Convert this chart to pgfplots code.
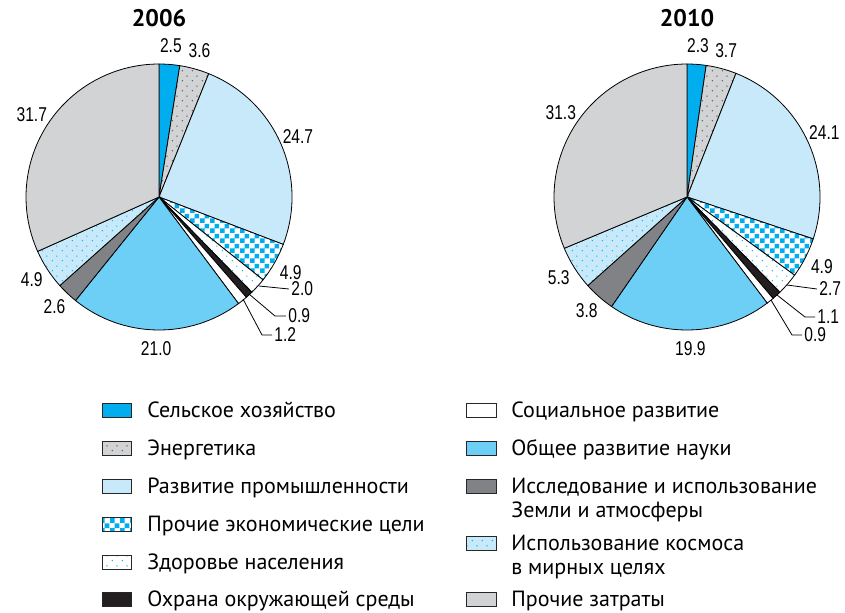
\documentclass[border=0pt]{standalone}
\usepackage{fontspec}
\setmainfont{PT Sans}
\newfontfamily\numfont[FakeStretch=0.78]{Liberation Sans}
\usepackage{pgfplots}
\pgfplotsset{compat=1.18}
\usetikzlibrary{patterns}

\definecolor{agri}{RGB}{0,174,239}
\definecolor{grey1}{RGB}{209,211,212}
\definecolor{indus}{RGB}{199,233,250}
\definecolor{science}{RGB}{109,207,246}
\definecolor{earth}{RGB}{128,130,133}
\definecolor{env}{RGB}{35,31,32}
\definecolor{dotgrey}{RGB}{90,90,90}

\pgfdeclarepatternformonly{sparsedots}{\pgfpointorigin}{\pgfqpoint{5pt}{5pt}}{\pgfqpoint{5pt}{5pt}}{%
  \pgfpathcircle{\pgfqpoint{1.25pt}{1.25pt}}{0.4pt}%
  \pgfpathcircle{\pgfqpoint{3.75pt}{3.75pt}}{0.4pt}%
  \pgfusepath{fill}}
\pgfdeclarepatternformonly{checker}{\pgfpointorigin}{\pgfqpoint{5pt}{5pt}}{\pgfqpoint{5pt}{5pt}}{%
  \pgfpathrectangle{\pgfpointorigin}{\pgfqpoint{2.5pt}{2.5pt}}%
  \pgfpathrectangle{\pgfqpoint{2.5pt}{2.5pt}}{\pgfqpoint{2.5pt}{2.5pt}}%
  \pgfusepath{fill}}

\newcommand\numstyle{\numfont\fontsize{10}{12}\selectfont}
\tikzset{
  s1/.style={fill=agri},
  s2/.style={preaction={fill=grey1}, pattern=sparsedots, pattern color=dotgrey},
  s3/.style={fill=indus},
  s4/.style={preaction={fill=white}, pattern=checker, pattern color=agri},
  s5/.style={preaction={fill=white}, pattern=sparsedots, pattern color=agri},
  s6/.style={fill=env},
  s7/.style={fill=white},
  s8/.style={fill=science},
  s9/.style={fill=earth},
  s10/.style={preaction={fill=indus}, pattern=sparsedots, pattern color=agri},
  s11/.style={fill=grey1},
  lbl/.style={font=\numstyle, inner sep=0pt},
}

% value / style / label at the rim (1) or by a leader line (0)
\newcommand{\drawpie}[1]{%
  \gdef\cum{0}%
  \foreach \v/\s/\lab in {#1} {%
    \pgfmathsetmacro\a{90-3.6*\cum}%
    \pgfmathsetmacro\newcum{\cum+\v}%
    \pgfmathsetmacro\b{90-3.6*\newcum}%
    \pgfmathsetmacro\m{(\a+\b)/2}%
    \xdef\cum{\newcum}%
    \edef\temp{\noexpand\filldraw[\s, draw=black, line width=0.4pt] (axis cs:0,0) -- ++(\a:66.5pt) arc[start angle=\a, end angle=\b, radius=66.5pt] -- cycle;}%
    \temp
    \ifnum\lab=1
      \edef\temp{\noexpand\node[lbl] at (axis cs:{1.14*cos(\m)},{1.14*sin(\m)}) {\v};}%
      \temp
    \fi
  }%
}

\begin{document}
\begin{tikzpicture}[x=0.5pt, y=-0.5pt]
\path[use as bounding box] (0,0) rectangle (845,612);
\coordinate (c1) at (159,197);
\coordinate (c2) at (687,197);

\node[font=\bfseries\fontsize{12}{14}\selectfont] at (159,18) {2006};
\node[font=\bfseries\fontsize{12}{14}\selectfont] at (687,18) {2010};

\begin{axis}[at={(c1)}, anchor=center, hide axis, clip=false,
    x=66.5pt, y=66.5pt, xmin=-1.3, xmax=1.3, ymin=-1.3, ymax=1.3]
\drawpie{2.5/s1/1, 3.6/s2/1, 24.7/s3/1, 4.9/s4/1, 2.0/s5/0, 0.9/s6/0,
  1.2/s7/0, 21.0/s8/1, 2.6/s9/1, 4.9/s10/1, 31.7/s11/1}
\end{axis}

\begin{axis}[at={(c2)}, anchor=center, hide axis, clip=false,
    x=66.5pt, y=66.5pt, xmin=-1.3, xmax=1.3, ymin=-1.3, ymax=1.3]
\drawpie{2.3/s1/1, 3.7/s2/1, 24.1/s3/1, 4.9/s4/1, 2.7/s5/0, 1.1/s6/0,
  0.9/s7/0, 19.9/s8/1, 3.8/s9/1, 5.3/s10/1, 31.3/s11/1}
\end{axis}

% leader lines for the thin slices
\begin{scope}[line width=0.4pt]
\draw (259,286) -- (289,289);  \node[lbl, anchor=west] at (291,289) {2.0};
\draw (249,294) -- (275,316) -- (286,316); \node[lbl, anchor=west] at (288,316) {0.9};
\draw (243,299) -- (262,335) -- (272,335); \node[lbl, anchor=west] at (274,335) {1.2};
\draw (787,285) -- (817,289);  \node[lbl, anchor=west] at (819,289) {2.7};
\draw (777,295) -- (805,317) -- (815,317); \node[lbl, anchor=west] at (817,317) {1.1};
\draw (771,300) -- (792,335) -- (802,335); \node[lbl, anchor=west] at (804,335) {0.9};
\end{scope}

% legend
\begin{scope}[font=\fontsize{11}{13}\selectfont]
\foreach \y/\s/\t in {410/s1/Сельское хозяйство, 448/s2/Энергетика,
    486/s3/Развитие промышленности, 524/s4/Прочие экономические цели,
    562/s5/Здоровье населения, 599/s6/Охрана окружающей среды} {
  \filldraw[\s, draw=black!85, line width=0.4pt] (102,\y-7) rectangle (131,\y+7);
  \node[anchor=base west, inner sep=0pt] at (147,\y+7) {\t};
}
\foreach \y/\s in {410/s7, 448/s8, 486/s9, 543/s10, 599/s11} {
  \filldraw[\s, draw=black!85, line width=0.4pt] (466,\y-7) rectangle (496,\y+7);
}
\foreach \y/\t in {410/Социальное развитие, 448/Общее развитие науки,
    486/Исследование и использование, 510/Земли и атмосферы,
    543/Использование космоса, 567/в мирных целях, 599/Прочие затраты} {
  \node[anchor=base west, inner sep=0pt] at (511,\y+7) {\t};
}
\end{scope}
\end{tikzpicture}
\end{document}
